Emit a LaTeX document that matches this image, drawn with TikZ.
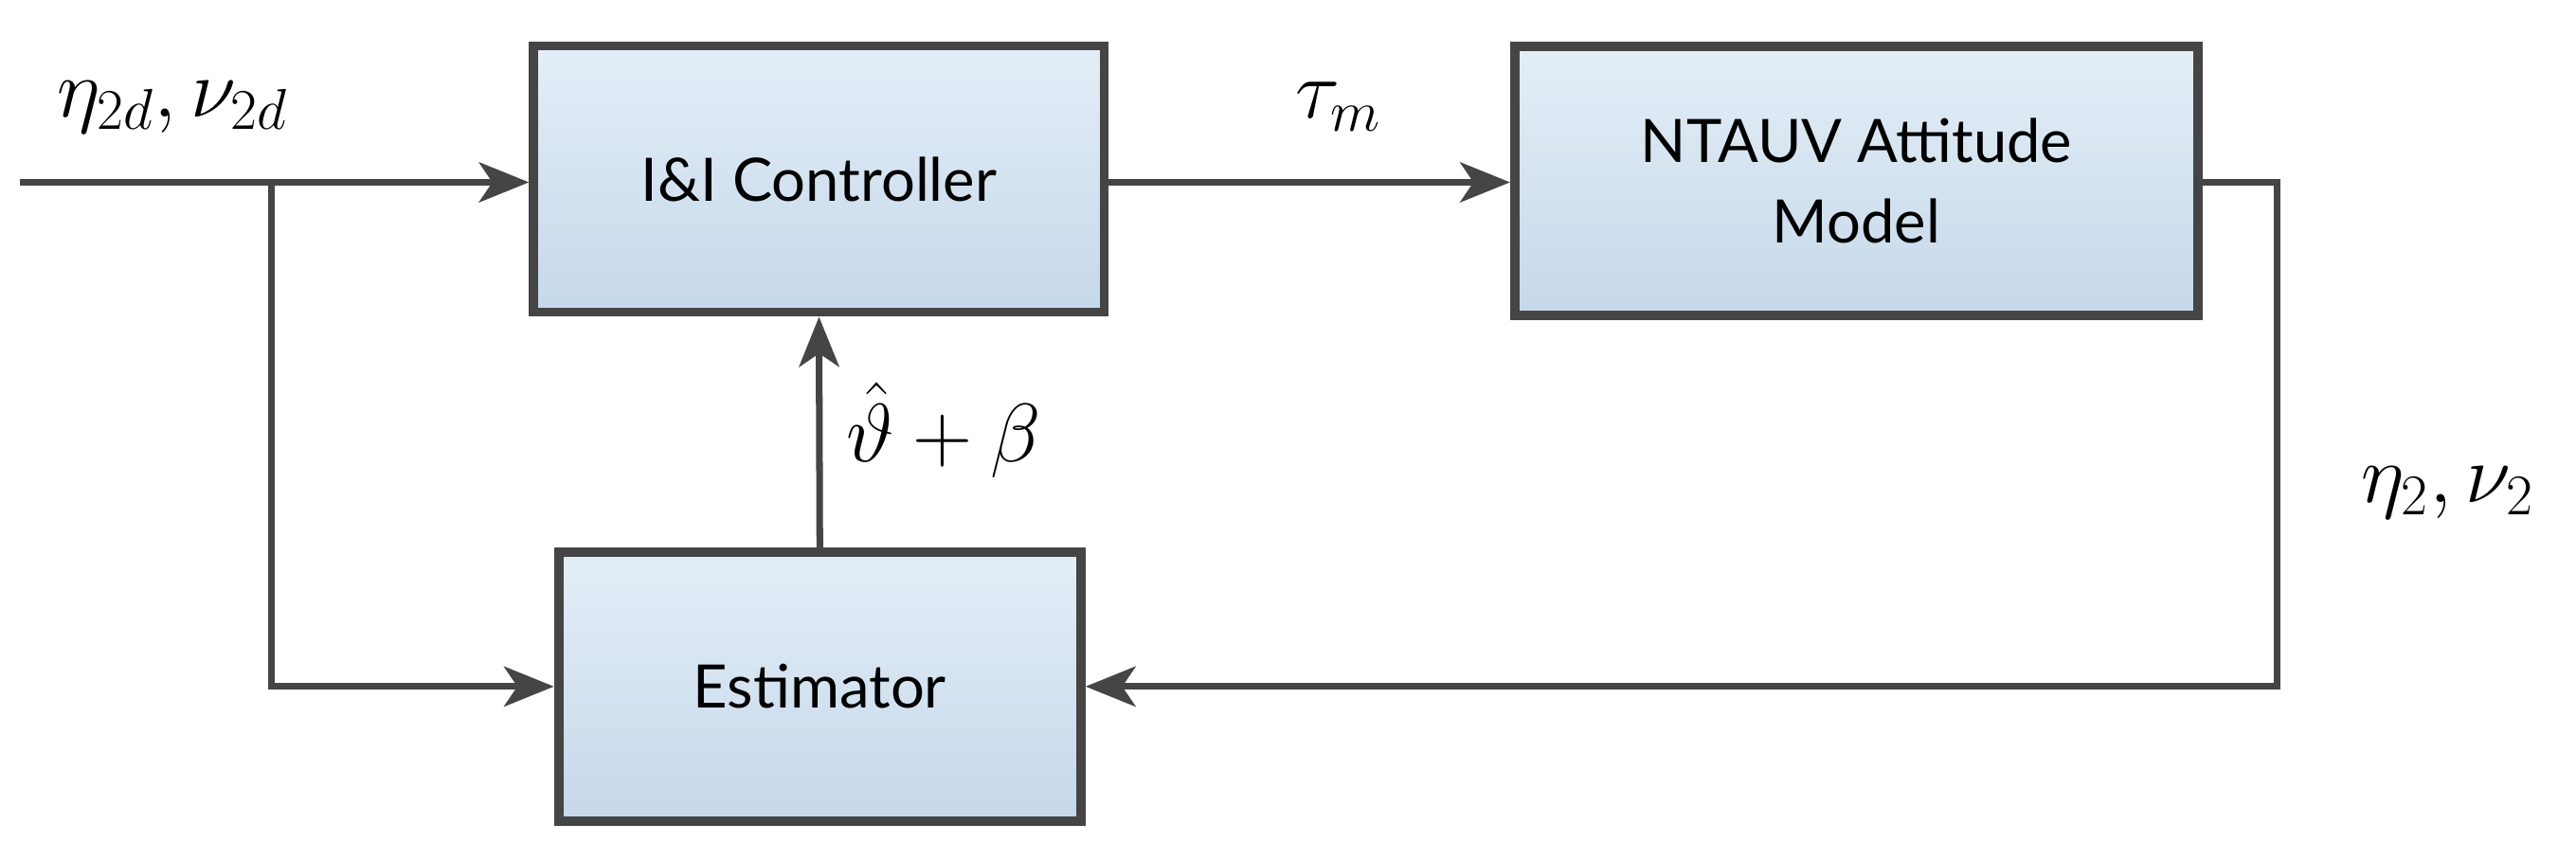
\documentclass[tikz,border=0pt]{standalone}
\usepackage{fontspec}
\setmainfont{Lato}
\usetikzlibrary{arrows.meta}
\definecolor{edge}{HTML}{454545}
\definecolor{topc}{HTML}{E4EEF7}
\definecolor{botc}{HTML}{C5D8EA}
\begin{document}
\begin{tikzpicture}[x=0.01734cm,y=-0.01734cm,
  blk/.style={draw=edge,line width=2.8pt,top color=topc,bottom color=botc,
    align=center,font=\fontsize{18}{24}\selectfont,inner sep=0pt},
  sig/.style={draw=edge,line width=2pt,-{Stealth[length=15pt,width=12pt,inset=4pt]}},
  lbl/.style={font=\fontsize{25}{28}\selectfont}]
  \useasboundingbox (0,0) rectangle (1568,523.6);
  % blocks
  \node[blk,minimum width=6.02cm,minimum height=2.81cm] (ctrl) at (498.5,109) {I\&I Controller};
  \node[blk,minimum width=7.21cm,minimum height=2.84cm] (plant) at (1130,110) {NTAUV Attitude\\Model};
  \node[blk,minimum width=5.51cm,minimum height=2.84cm] (est) at (499,418) {Estimator};
  % helper points
  \coordinate (in) at (12,111);
  \coordinate (br) at (165,111);
  \coordinate (fb) at (1386,111);
  % connectors
  \draw[sig] (in) -- (ctrl.west |- in);
  \draw[sig] (br) |- (est.west);
  \draw[sig] (ctrl.east |- in) -- (plant.west |- in);
  \draw[sig] (plant.east |- fb) -- (fb) |- (est.east);
  \draw[sig] (est.north) -- (ctrl.south);
  % labels
  \node[lbl] at (105,65) {$\eta_{2d},\nu_{2d}$};
  \node[lbl] at (815,65) {$\tau_m$};
  \node[lbl,anchor=west] at (508,262) {$\hat{\vartheta}+\beta$};
  \node[lbl] at (1490,300) {$\eta_2,\nu_2$};
\end{tikzpicture}
\end{document}
